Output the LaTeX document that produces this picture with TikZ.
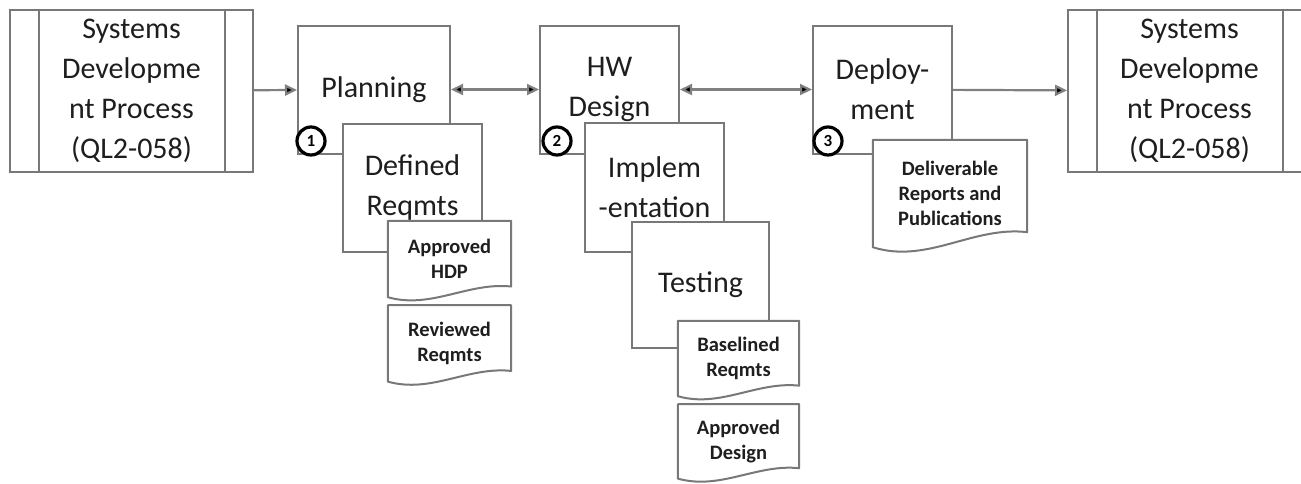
\documentclass[tikz,border=0pt]{standalone}
\usepackage{fontspec}
\setmainfont{Carlito}
\usepackage{tikz}
\usetikzlibrary{arrows.meta}
\usetikzlibrary{positioning}
\usetikzlibrary{calc}

\definecolor{linegray}{RGB}{120,120,120}
\definecolor{arrowgray}{RGB}{128,128,128}
\definecolor{textgray}{RGB}{30,30,30}

\newcommand{\bigtext}{\fontsize{30}{40}\selectfont}
\newcommand{\smalltext}{\bfseries\fontsize{20.5}{25}\selectfont}

\begin{document}
\begin{tikzpicture}[x=1pt,y=-1pt,>={Triangle[length=12pt,width=11pt]}]
\tikzstyle{box node}=[rectangle,draw=linegray,line width=2pt,fill=white,inner sep=0,align=center,text=textgray,font=\bigtext]
\tikzstyle{num node}=[circle,draw=black,line width=3.2pt,fill=white,inner sep=0,minimum size=28pt,font=\bfseries\fontsize{17}{17}\selectfont]
\tikzstyle{flow}=[draw=arrowgray,line width=2.2pt]
\tikzset{
  sdp/.style = {box node,fill=none,minimum width=243pt,minimum height=162pt,
    append after command={\pgfextra{
      \draw[linegray,line width=2pt] ($(\tikzlastnode.north west)+(30,0)$) -- ($(\tikzlastnode.south west)+(30,0)$);
      \draw[linegray,line width=2pt] ($(\tikzlastnode.north east)+(-29,0)$) -- ($(\tikzlastnode.south east)+(-29,0)$);}}},
  step box/.style = {box node,minimum width=139pt,minimum height=128pt},
  docu/.style = {rectangle,inner sep=0,align=center,text=textgray,font=\smalltext,
    minimum width=123pt,minimum height=76pt,
    append after command={\pgfextra{
      \filldraw[fill=white,draw=linegray,line width=2pt,line join=round] let \p1=(\tikzlastnode.north west), \p2=(\tikzlastnode.south east),
        \n1={\x2-\x1}, \n2={\y1-\y2} in
        (\p1) -- (\x2,\y1) -- (\x2,{\y2+0.14*\n2})
        .. controls ({\x1+0.65*\n1},{\y2+0.2*\n2}) and ({\x1+0.35*\n1},{\y2-0.16*\n2}) .. (\x1,\y2) -- cycle;}}}
}

\useasboundingbox (0,0) rectangle (1301,483);
\clip (0,0) rectangle (1301,483);

    \node[sdp]        (sdpin)   at (131.5,91)  {Systems\\Developme\\nt Process\\(QL2-058)};
    \node[sdp]        (sdpout)  at (1189.5,91) {Systems\\Developme\\nt Process\\(QL2-058)};
    %%%%%%%%%%%%%%%%%%%%%%%%%%%%%%%%%%%%%%%%%%
    \node[step box,minimum width=152pt] (plan) at (374,89.5) {Planning};
    \node[num node]   (n1)      at (311,141)     {1};
    \node[step box]   (defreq)  at (412.5,187.5) {Defined\\Reqmts};
    \node[docu]       (hdp)     at (449.5,259)   {Approved\\HDP};
    \node[docu]       (revreq)  [below=8pt of hdp] {Reviewed\\Reqmts};
    %%%%%%%%%%%%%%%%%%%%%%%%%%%%%%%%%%%%%%%%%%
    \node[step box]   (hw)      at (609.5,89.5)  {HW\\Design};
    \node[num node]   (n2)      at (557,141)     {2};
    \node[step box,minimum height=129pt] (impl) at (654.5,187.5) {Implem\\-entation};
    \node[step box,minimum width=137pt,minimum height=126pt] (test) at (700.5,285) {Testing};
    \node[docu,minimum width=121pt,minimum height=75pt] (basreq) at (738.5,358.5) {Baselined\\Reqmts};
    \node[docu,minimum width=121pt,minimum height=74pt] (appdes) [below=8pt of basreq] {Approved\\Design};
    %%%%%%%%%%%%%%%%%%%%%%%%%%%%%%%%%%%%%%%%%%
    \node[step box]   (deploy)  at (882.5,89.5)  {Deploy-\\ment};
    \node[num node]   (n3)      at (828,141)     {3};
    \node[docu,minimum width=154pt,minimum height=107pt] (deliv) at (950,193.5) {Deliverable\\Reports and\\Publications};

    \path[flow]
         (sdpin)  edge[->] node {} (plan)
         (plan)   edge[<->] node {} (hw)
         (hw)     edge[<->] node {} (deploy)
         (deploy) edge[->] node {} (sdpout)
;
\end{tikzpicture}
\end{document}
